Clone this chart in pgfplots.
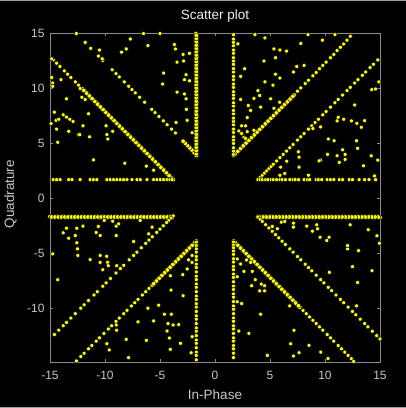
\documentclass[border=0pt]{standalone}
\usepackage{fontspec}
\setmainfont{Liberation Sans}
\usepackage{pgfplots}
\pgfplotsset{compat=1.18}

\definecolor{axgray}{gray}{0.55}
\definecolor{lblgray}{gray}{0.78}
\definecolor{ttlcol}{gray}{0.94}
\definecolor{ptyellow}{RGB}{255,255,0}

\begin{document}
\begin{tikzpicture}
\useasboundingbox (-50pt,-46pt) rectangle (356pt,362pt);
\fill[black] (-50pt,-46pt) rectangle (356pt,362pt);
\draw[gray!75, line width=0.8pt] (-50pt,361.6pt) -- (356pt,361.6pt);
\draw[gray!75, line width=0.8pt] (-50pt,-45.6pt) -- (356pt,-45.6pt);
\begin{axis}[
    at={(0pt,0pt)}, anchor=south west,
    scale only axis, width=330pt, height=329pt,
    xmin=-15, xmax=15, ymin=-14.9, ymax=15.05,
    xtick={-15,-10,-5,0,5,10,15}, xticklabels={-15,-10,-5,0,5,10,15},
    ytick={-10,-5,0,5,10,15}, yticklabels={-10,-5,0,5,10,15},
    tick align=inside, major tick length=3.3pt,
    axis line style={axgray, line width=0.6pt},
    tick style={axgray, line width=0.6pt},
    ticklabel style={text=lblgray, font=\fontsize{12}{14}\selectfont},
    xticklabel style={yshift=-6pt},
    yticklabel style={xshift=-2pt},
    title={Scatter plot},
    title style={text=ttlcol, font=\fontsize{13.5}{16}\selectfont,
        at={(axis description cs:0.5,1)}, anchor=base, yshift=8pt},
    xlabel={In-Phase},
    xlabel style={text=lblgray, font=\fontsize{13.5}{16}\selectfont,
        at={(axis description cs:0.5,0)}, anchor=base, yshift=-37.5pt},
    ylabel={Quadrature},
    ylabel style={text=lblgray, font=\fontsize{13.5}{16}\selectfont,
        at={(axis description cs:-0.109,0.51)}, anchor=base},
    every axis plot/.append style={only marks, mark=*, mark options={draw=none, fill=ptyellow}},
]

% dense streaks
\addplot[mark size=2.3pt] coordinates {
    (-1.67,3.9)(-1.73,4.2)(-1.67,4.5)(-1.73,4.8)(-1.67,5.1)(-1.73,5.4)(-1.67,5.7)(-1.73,6.0)
    (-1.67,6.3)(-1.73,6.6)(-1.67,6.9)(-1.73,7.2)(-1.67,7.5)(-1.73,7.8)(-1.67,8.1)(-1.73,8.4)
    (-1.67,8.7)(-1.73,9.0)(-1.67,9.3)(-1.73,9.6)(-1.67,9.9)(-1.73,10.2)(-1.67,10.5)(-1.73,10.8)
    (-1.67,11.1)(-1.73,11.4)(-1.67,11.7)(-1.73,12.0)(-1.67,12.3)(-1.73,12.6)(-1.67,12.9)(-1.73,13.2)
    (-1.67,13.5)(-1.73,13.8)(-1.67,14.1)(-1.73,14.4)(-1.67,14.7)(-1.73,15.0)
    (-3.8,1.7)(-4.05,1.95)(-4.3,2.2)(-4.55,2.45)(-4.8,2.7)(-5.05,2.95)(-5.3,3.2)(-5.55,3.45)
    (-5.8,3.7)(-6.05,3.95)(-6.3,4.2)(-6.55,4.45)(-6.8,4.7)(-7.05,4.95)(-7.3,5.2)(-7.55,5.45)
    (-7.8,5.7)(-8.05,5.95)(-8.3,6.2)(-8.55,6.45)(-8.8,6.7)(-9.05,6.95)(-9.3,7.2)(-9.55,7.45)
    (-9.8,7.7)(-10.05,7.95)(-10.3,8.2)(-10.55,8.45)(-10.8,8.7)(-11.05,8.95)(-11.3,9.2)(-11.55,9.45)
    (-11.8,9.7)(-12.05,9.95)
    (-15.0,-1.66)(-14.7,-1.74)(-14.4,-1.66)(-14.1,-1.74)(-13.8,-1.66)(-13.5,-1.74)(-13.2,-1.66)
    (-12.9,-1.74)(-12.6,-1.66)(-12.3,-1.74)(-12.0,-1.66)(-11.7,-1.74)(-11.4,-1.66)(-11.1,-1.74)
    (-10.8,-1.66)(-10.5,-1.74)(-10.2,-1.66)(-9.9,-1.74)(-9.6,-1.66)(-9.3,-1.74)(-9.0,-1.66)
    (-8.7,-1.74)(-8.4,-1.66)(-8.1,-1.74)(-7.8,-1.66)(-7.5,-1.74)(-7.2,-1.66)(-6.9,-1.74)
    (-6.6,-1.66)(-6.3,-1.74)(-6.0,-1.66)(-5.7,-1.74)(-5.4,-1.66)(-5.1,-1.74)(-4.8,-1.66)
    (-4.5,-1.74)(-4.2,-1.66)(-3.9,-1.74)
    (3.9,-1.66)(4.2,-1.74)(4.5,-1.66)(4.8,-1.74)(5.1,-1.66)(5.4,-1.74)(5.7,-1.66)(6.0,-1.74)
    (6.3,-1.66)(6.6,-1.74)(6.9,-1.66)(7.2,-1.74)(7.5,-1.66)(7.8,-1.74)(8.1,-1.66)(8.4,-1.74)
    (8.7,-1.66)(9.0,-1.74)(9.3,-1.66)(9.6,-1.74)(9.9,-1.66)(10.2,-1.74)(10.5,-1.66)(10.8,-1.74)
    (11.1,-1.66)(11.4,-1.74)(11.7,-1.66)(12.0,-1.74)(12.3,-1.66)(12.6,-1.74)(12.9,-1.66)
    (13.2,-1.74)(13.5,-1.66)(13.8,-1.74)(14.1,-1.66)(14.4,-1.74)(14.7,-1.66)(15.0,-1.74)
    (1.7,3.9)(1.95,4.15)(2.2,4.4)(2.45,4.65)(2.7,4.9)(2.95,5.15)(3.2,5.4)(3.45,5.65)(3.7,5.9)
    (3.95,6.15)(4.2,6.4)(4.45,6.65)(4.7,6.9)(4.95,7.15)(5.2,7.4)(5.45,7.65)(5.7,7.9)(5.95,8.15)
    (6.2,8.4)(6.45,8.65)(6.7,8.9)(6.95,9.15)(7.2,9.4)
    (1.7,-3.9)(1.95,-4.15)(2.2,-4.4)(2.45,-4.65)(2.7,-4.9)(2.95,-5.15)(3.2,-5.4)(3.45,-5.65)
    (3.7,-5.9)(3.95,-6.15)(4.2,-6.4)(4.45,-6.65)(4.7,-6.9)(4.95,-7.15)(5.2,-7.4)(5.45,-7.65)
    (5.7,-7.9)(5.95,-8.15)(6.2,-8.4)(6.45,-8.65)(6.7,-8.9)(6.95,-9.15)(7.2,-9.4)(7.45,-9.65)(7.7,-9.9)
    (-1.7,-3.9)(-1.95,-4.15)(-2.2,-4.4)(-2.45,-4.65)(-2.7,-4.9)(-2.95,-5.15)(-3.2,-5.4)
    (-3.45,-5.65)(-3.7,-5.9)(-3.95,-6.15)(-4.2,-6.4)(-4.45,-6.65)(-4.7,-6.9)(-4.95,-7.15)
    (-5.2,-7.4)(-5.45,-7.65)(-5.7,-7.9)
    (-1.7,3.9)(-1.9,4.15)(-2.1,4.4)(-2.3,4.6)(-2.5,4.8)(-2.7,5.0)(-2.9,5.2)
};

% points between the dense ones
\addplot[mark size=2.3pt] coordinates {
    (-1.70,4.05)(-1.70,4.35)(-1.70,4.65)(-1.70,4.95)(-1.70,5.25)(-1.70,5.55)(-1.70,5.85)
    (-1.70,6.15)(-1.70,6.45)(-1.70,6.75)(-1.70,7.05)(-1.70,7.35)(-1.70,7.65)(-1.70,7.95)
    (-1.70,8.25)(-1.70,8.55)(-1.70,8.85)(-1.70,9.15)(-1.70,9.45)(-1.70,9.75)(-1.70,10.05)
    (-1.70,10.35)(-1.70,10.65)(-1.70,10.95)(-1.70,11.25)(-1.70,11.55)(-1.70,11.85)(-1.70,12.15)
    (-1.70,12.45)(-1.70,12.75)(-1.70,13.05)(-1.70,13.35)(-1.70,13.65)(-1.70,13.95)(-1.70,14.25)
    (-1.70,14.55)(-1.70,14.85)
    (-3.93,1.83)(-4.18,2.08)(-4.43,2.33)(-4.68,2.58)(-4.93,2.83)(-5.18,3.08)(-5.43,3.33)
    (-5.68,3.58)(-5.93,3.83)(-6.18,4.08)(-6.43,4.33)(-6.68,4.58)(-6.93,4.83)(-7.18,5.08)
    (-7.43,5.33)(-7.68,5.58)(-7.93,5.83)(-8.18,6.08)(-8.43,6.33)(-8.68,6.58)(-8.93,6.83)
    (-9.18,7.08)(-9.43,7.33)(-9.68,7.58)(-9.93,7.83)(-10.18,8.08)(-10.43,8.33)(-10.68,8.58)
    (-10.93,8.83)(-11.18,9.08)(-11.43,9.33)(-11.68,9.58)(-11.93,9.83)
    (-14.85,-1.70)(-14.55,-1.70)(-14.25,-1.70)(-13.95,-1.70)(-13.65,-1.70)(-13.35,-1.70)
    (-13.05,-1.70)(-12.75,-1.70)(-12.45,-1.70)(-12.15,-1.70)(-11.85,-1.70)(-11.55,-1.70)
    (-11.25,-1.70)(-10.95,-1.70)(-10.65,-1.70)(-10.35,-1.70)(-10.05,-1.70)(-9.75,-1.70)
    (-9.45,-1.70)(-9.15,-1.70)(-8.85,-1.70)(-8.55,-1.70)(-8.25,-1.70)(-7.95,-1.70)(-7.65,-1.70)
    (-7.35,-1.70)(-7.05,-1.70)(-6.75,-1.70)(-6.45,-1.70)(-6.15,-1.70)(-5.85,-1.70)(-5.55,-1.70)
    (-5.25,-1.70)(-4.95,-1.70)(-4.65,-1.70)(-4.35,-1.70)(-4.05,-1.70)
    (14.85,-1.70)(14.55,-1.70)(14.25,-1.70)(13.95,-1.70)(13.65,-1.70)(13.35,-1.70)
    (13.05,-1.70)(12.75,-1.70)(12.45,-1.70)(12.15,-1.70)(11.85,-1.70)(11.55,-1.70)
    (11.25,-1.70)(10.95,-1.70)(10.65,-1.70)(10.35,-1.70)(10.05,-1.70)(9.75,-1.70)
    (9.45,-1.70)(9.15,-1.70)(8.85,-1.70)(8.55,-1.70)(8.25,-1.70)(7.95,-1.70)(7.65,-1.70)
    (7.35,-1.70)(7.05,-1.70)(6.75,-1.70)(6.45,-1.70)(6.15,-1.70)(5.85,-1.70)(5.55,-1.70)
    (5.25,-1.70)(4.95,-1.70)(4.65,-1.70)(4.35,-1.70)(4.05,-1.70)
    (1.83,4.03)(2.08,4.28)(2.33,4.53)(2.58,4.78)(2.83,5.03)(3.08,5.28)(3.33,5.53)(3.58,5.78)
    (3.83,6.03)(4.08,6.28)(4.33,6.53)(4.58,6.78)(4.83,7.03)(5.08,7.28)(5.33,7.53)(5.58,7.78)
    (5.83,8.03)(6.08,8.28)(6.33,8.53)(6.58,8.78)(6.83,9.03)(7.08,9.28)
    (1.83,-4.03)(2.08,-4.28)(2.33,-4.53)(2.58,-4.78)(2.83,-5.03)(3.08,-5.28)(3.33,-5.53)
    (3.58,-5.78)(3.83,-6.03)(4.08,-6.28)(4.33,-6.53)(4.58,-6.78)(4.83,-7.03)(5.08,-7.28)
    (5.33,-7.53)(5.58,-7.78)(5.83,-8.03)(6.08,-8.28)(6.33,-8.53)(6.58,-8.78)(6.83,-9.03)
    (7.08,-9.28)(7.33,-9.53)(7.58,-9.78)
    (-1.83,-4.03)(-2.08,-4.28)(-2.33,-4.53)(-2.58,-4.78)(-2.83,-5.03)(-3.08,-5.28)(-3.33,-5.53)
    (-3.58,-5.78)(-3.83,-6.03)(-4.08,-6.28)(-4.33,-6.53)(-4.58,-6.78)(-4.83,-7.03)(-5.08,-7.28)
    (-5.33,-7.53)(-5.58,-7.78)
};

% beaded streaks
\addplot[mark size=2pt] coordinates {
    (-12.4,10.3)(-12.7,10.6)(-13.1,11.0)(-13.4,11.3)(-13.7,11.6)(-14.1,12.0)(-14.4,12.3)(-14.7,12.6)(-14.85,12.7)
    (7.5,9.75)(7.8,10.05)(8.2,10.45)(8.5,10.75)(8.9,11.15)(9.2,11.45)(9.5,11.8)(9.8,12.1)
    (10.1,12.4)(10.5,12.8)(10.8,13.1)(11.1,13.45)(11.4,13.75)(11.7,14.05)(12.0,14.4)(12.3,14.75)
    (8.0,-10.2)(8.3,-10.5)(8.6,-10.8)(8.9,-11.1)(9.2,-11.4)(9.5,-11.7)(9.8,-12.0)(10.2,-12.4)
    (10.5,-12.7)(10.8,-13.0)(11.2,-13.4)(11.5,-13.7)(11.8,-14.0)(12.1,-14.3)(12.4,-14.6)(12.6,-14.85)
    (-6.0,-8.2)(-6.3,-8.5)(-6.6,-8.8)(-7.0,-9.2)(-7.3,-9.5)(-7.6,-9.8)(-8.0,-10.2)(-8.3,-10.5)
    (-8.7,-10.9)(-9.0,-11.2)(-9.4,-11.6)(-9.7,-11.9)(-10.1,-12.3)(-10.5,-12.7)(-10.8,-13.0)
    (-11.2,-13.4)(-11.5,-13.7)(-11.9,-14.1)(-12.2,-14.4)(-12.6,-14.8)
    (-3.6,5.95)(-3.95,6.3)(-4.35,6.7)(-4.7,7.05)(-5.1,7.45)(-5.45,7.8)(-5.75,8.1)(-6.4,8.75)
    (-6.85,9.2)(-7.25,9.6)(-7.55,9.9)(-7.85,10.2)(-8.25,10.6)(-8.7,11.05)(-9.0,11.35)(-9.35,11.7)
    (-10.2,12.55)(-10.6,12.95)(-11.3,13.65)(-11.8,14.15)
    (1.68,4.0)(1.68,4.3)(1.68,4.6)(1.68,5.0)(1.68,5.3)(1.68,5.6)(1.68,6.0)(1.68,6.3)(1.68,6.7)
    (1.68,7.0)(1.68,7.3)(1.68,7.7)(1.68,8.0)(1.68,8.4)(1.68,8.7)(1.68,9.1)(1.68,9.4)(1.68,9.7)
    (1.68,10.1)(1.68,10.4)(1.68,10.8)(1.68,11.1)(1.68,11.5)(1.68,11.8)(1.68,12.2)(1.68,12.5)
    (1.68,12.8)(1.68,13.2)(1.68,13.5)(1.68,13.9)(1.68,14.2)(1.68,14.5)(1.68,14.9)
    (-1.7,-4.0)(-1.7,-4.3)(-1.7,-4.6)(-1.7,-4.9)(-1.7,-5.3)(-1.7,-5.6)(-1.7,-6.0)(-1.7,-6.3)
    (-1.7,-6.7)(-1.7,-7.1)(-1.7,-7.4)(-1.7,-7.8)(-1.7,-8.1)(-1.7,-8.5)(-1.7,-8.9)(-1.7,-9.2)
    (-1.7,-9.6)(-1.7,-9.9)(-1.7,-10.3)(-1.7,-10.7)(-1.7,-11.0)(-1.7,-11.4)(-1.7,-11.8)
    (-1.7,-12.1)(-1.7,-12.5)(-1.7,-12.9)(-1.7,-13.2)(-1.7,-13.6)(-1.7,-14.0)(-1.7,-14.3)(-1.7,-14.7)
    (1.68,-4.0)(1.68,-4.25)(1.68,-4.5)(1.68,-4.8)(1.68,-5.1)(1.68,-5.5)(1.68,-5.8)(1.68,-6.2)
    (1.68,-6.5)(1.68,-6.9)(1.68,-7.2)(1.68,-7.6)(1.68,-8.0)(1.68,-8.3)(1.68,-8.7)(1.68,-9.0)
    (1.68,-9.4)(1.68,-9.8)(1.68,-10.1)(1.68,-10.5)(1.68,-10.9)(1.68,-11.2)(1.68,-11.6)
    (1.68,-11.9)(1.68,-12.3)(1.68,-12.7)(1.68,-13.0)(1.68,-13.4)(1.68,-13.7)(1.68,-14.1)(1.68,-14.5)
    (3.9,1.7)(4.1,1.9)(4.3,2.1)(4.5,2.3)(4.7,2.5)(4.9,2.7)(5.1,2.9)(5.3,3.1)(5.6,3.4)(5.9,3.7)
    (6.2,4.0)(6.5,4.3)(6.8,4.6)(7.1,4.9)(7.5,5.3)(7.8,5.6)(8.1,5.9)(8.5,6.3)(8.8,6.6)(9.1,6.9)
    (9.4,7.2)(9.8,7.6)(10.1,7.9)(10.5,8.3)(10.9,8.7)(11.2,9.0)(11.6,9.4)(12.0,9.8)(12.3,10.1)
    (12.7,10.5)(13.0,10.8)(13.4,11.2)(13.7,11.5)(14.1,11.9)(14.4,12.2)(14.8,12.6)
    (-3.8,-1.6)(-4.0,-1.8)(-4.2,-2.0)(-4.4,-2.2)(-4.7,-2.5)(-5.0,-2.8)(-5.3,-3.1)(-5.7,-3.5)
    (-6.0,-3.8)(-6.3,-4.1)(-6.7,-4.5)(-7.1,-4.9)(-7.4,-5.2)(-7.8,-5.6)(-8.3,-6.1)(-8.6,-6.4)
    (-9.0,-6.8)(-9.5,-7.3)(-9.9,-7.7)(-10.2,-8.0)(-10.7,-8.5)(-11.0,-8.8)(-11.5,-9.3)
    (-11.9,-9.7)(-12.2,-10.0)(-12.7,-10.5)(-13.1,-10.9)(-13.5,-11.3)(-13.8,-11.6)(-14.2,-12.0)(-14.6,-12.4)
    (3.9,-1.7)(4.1,-1.9)(4.3,-2.1)(4.6,-2.4)(4.9,-2.7)(5.2,-3.0)(5.5,-3.3)(5.8,-3.6)(6.1,-3.9)
    (6.4,-4.2)(6.8,-4.6)(7.1,-4.9)(7.5,-5.3)(7.8,-5.6)(8.2,-6.0)(8.5,-6.3)(8.8,-6.6)(9.2,-7.0)
    (9.6,-7.4)(9.9,-7.7)(10.3,-8.1)(10.6,-8.4)(11.0,-8.8)(11.4,-9.2)(11.7,-9.5)(12.1,-9.9)
    (12.5,-10.3)(12.8,-10.6)(13.2,-11.0)(13.6,-11.4)(13.9,-11.7)(14.3,-12.1)(14.7,-12.5)(15.0,-12.8)
    (3.9,1.7)(4.1,1.7)(4.3,1.7)(4.6,1.7)(4.8,1.7)(5.1,1.7)(5.3,1.7)(5.6,1.7)(5.9,1.7)(6.1,1.7)
    (6.4,1.7)(6.8,1.7)(7.1,1.7)(7.3,1.7)(7.6,1.7)(8.1,1.7)(8.4,1.7)(8.6,1.7)(9.2,1.7)(9.4,1.7)
    (9.7,1.7)(10.2,1.7)(10.5,1.7)(10.8,1.7)(11.3,1.7)(11.6,1.7)(12.2,1.7)(12.5,1.7)(13.1,1.7)
    (13.6,1.7)(14.0,1.7)(14.6,1.7)
    (-14.7,1.7)(-14.4,1.7)(-14.08,1.7)(-13.3,1.7)(-13.0,1.7)(-12.26,1.7)(-11.35,1.7)(-11.05,1.7)
    (-10.74,1.7)(-9.83,1.7)(-9.53,1.7)(-9.22,1.7)(-8.92,1.7)(-8.61,1.7)(-8.31,1.7)(-8.0,1.7)
    (-7.55,1.7)(-7.09,1.7)(-6.79,1.7)(-6.18,1.7)(-5.58,1.7)(-5.27,1.7)(-4.97,1.7)(-4.67,1.7)
    (-4.36,1.7)(-4.1,1.7)(-3.9,1.7)
};

% scattered points
\addplot[mark size=2pt] coordinates {
    (-12.6,15.0)(-6.5,15.0)(-5.0,15.0)(-11.8,14.2)(-7.7,14.5)(-6.1,13.9)(-10.5,13.5)(-8.5,13.3)
    (-8.07,13.6)(-3.69,14.0)(-3.6,13.6)(-2.9,13.1)(-2.32,13.2)(-3.45,12.4)(-2.85,12.5)(-2.63,11.25)
    (-2.32,10.7)(-2.78,10.8)(-3.45,9.67)(-2.78,9.5)(-2.63,9.06)(-2.6,8.1)(-3.54,6.9)(-2.53,7.1)
    (-2.08,5.97)(-4.67,11.4)(-4.76,10.4)(-14.85,11.0)(-14.75,10.5)(-14.75,10.2)(-14.0,10.8)
    (-13.5,9.06)(-14.6,7.84)(-14.45,7.1)(-14.2,7.2)(-14.9,6.8)(-14.4,6.3)(-14.3,5.1)(-13.8,7.6)
    (-13.5,7.4)(-13.2,7.2)(-12.9,7.0)(-13.3,6.1)(-12.4,5.8)(-12.3,5.8)(-12.0,6.6)(-11.5,7.7)
    (-11.4,5.6)(-12.1,9.2)(-11.8,9.0)(-11.05,3.5)(-9.9,6.6)(-9.83,5.8)(-9.74,5.4)(-9.3,6.1)
    (-8.2,3.2)(-6.24,2.93)(-5.58,2.56)(-12.26,10.0)(-10.25,12.7)
    (3.63,14.9)(4.54,14.6)(8.46,14.9)(10.9,14.9)(7.8,14.1)(9.77,14.4)(2.08,14.06)(5.36,13.6)
    (5.9,13.5)(6.5,13.4)(5.5,12.8)(4.45,12.5)(2.69,11.8)(2.33,11.1)(7.13,11.5)(7.43,12.0)
    (8.1,12.1)(5.5,11.3)(5.9,10.95)(4.54,10.6)(5.27,10.3)(3.9,9.8)(4.06,9.36)(3.54,9.1)
    (2.33,9.0)(5.06,9.06)(5.88,8.75)(3.03,8.45)(4.15,8.3)(3.24,8.0)(5.36,8.2)(2.93,7.35)
    (2.42,6.6)(2.78,6.6)(2.17,6.13)(3.54,6.2)(2.93,6.07)(2.63,5.55)(2.78,5.45)(2.42,5.9)
    (9.6,6.5)(8.9,6.35)(11.1,7.05)(11.7,7.2)(12.4,7.05)(12.9,6.83)(13.6,7.07)(13.3,6.47)
    (11.2,7.38)(12.7,8.5)(10.3,5.4)(10.83,5.24)(11.6,4.42)(11.83,4.0)(11.83,3.54)(11.3,3.27)
    (12.87,5.24)(12.96,4.55)(10.23,4.0)(11.1,3.87)(9.6,3.48)(13.5,2.96)(14.2,3.87)(14.8,3.48)
    (14.5,2.04)(14.25,9.9)(14.6,9.95)(14.9,10.6)(7.58,4.24)(7.64,3.75)(7.64,2.84)(6.52,3.38)
    (5.97,2.84)(5.9,2.1)(8.5,2.1)(6.34,2.26)(9.46,3.41)
    (-13.8,-3.14)(-13.5,-2.72)(-13.3,-3.63)(-12.7,-3.39)(-12.56,-2.72)(-12.56,-4.05)(-12.5,-4.6)
    (-12.47,-5.2)(-12.0,-2.53)(-10.8,-3.11)(-10.6,-2.56)(-10.44,-3.39)(-10.07,-2.01)(-9.3,-2.08)
    (-8.98,-2.53)(-8.76,-2.32)(-8.98,-3.39)(-10.44,-5.2)(-10.44,-5.83)(-9.85,-5.28)(-9.76,-5.83)
    (-9.7,-6.13)(-10.2,-6.5)(-11.35,-5.58)(-8.94,-6.13)(-7.4,-3.93)(-6.8,-2.01)(-6.03,-3.23)
    (-5.72,-2.62)(-14.75,-5.06)(-14.3,-7.41)(-4.0,-8.35)(-2.9,-8.87)(-4.06,-7.05)(-2.93,-6.95)
    (-2.53,-6.43)(-2.08,-5.83)(-2.4,-5.6)(-2.08,-5.2)(-6.1,-10.0)(-5.12,-9.73)(-4.6,-10.55)
    (-3.97,-10.55)(-4.27,-11.4)(-3.81,-11.53)(-3.3,-11.5)(-4.36,-12.08)(-4.15,-12.72)
    (-4.06,-13.75)(-3.14,-13.2)(-2.08,-12.6)(-2.17,-14.06)(-5.58,-11.16)(-7.0,-11.25)
    (-6.24,-12.93)(-8.07,-12.84)(-7.86,-14.5)(-9.62,-13.8)(-9.83,-13.24)(-8.94,-12.01)(-8.98,-11.53)
    (6.03,-2.17)(6.34,-2.1)(7.13,-2.26)(7.13,-2.62)(8.34,-2.53)(8.86,-2.99)(9.25,-2.41)
    (9.32,-2.77)(9.55,-3.54)(10.37,-3.54)(10.16,-3.84)(12.29,-2.41)(13.93,-2.86)(14.72,-3.41)
    (14.95,-4.09)(12.05,-4.6)(12.05,-4.3)(13.05,-4.76)(12.5,-6.22)(14.27,-6.59)(12.96,-7.66)
    (10.4,-6.74)(12.87,-9.79)(7.18,-12.01)(6.88,-13.24)(7.64,-14.06)(7.13,-14.36)(8.55,-13.38)
    (9.62,-14.0)(10.28,-14.58)(4.76,-14.3)(4.15,-10.55)(6.79,-9.79)(3.08,-12.29)(2.17,-12.08)
    (2.42,-9.58)(2.02,-9.42)(2.63,-6.65)(3.39,-6.65)(3.66,-7.41)(3.33,-7.96)(4.06,-8.42)
    (4.21,-7.81)(4.51,-7.96)(4.51,-8.42)(2.02,-5.52)(2.33,-5.98)(2.87,-5.61)(3.24,-5.83)
    (2.02,-7.14)(5.21,-2.56)(5.67,-2.77)
};
\end{axis}
\end{tikzpicture}
\end{document}
